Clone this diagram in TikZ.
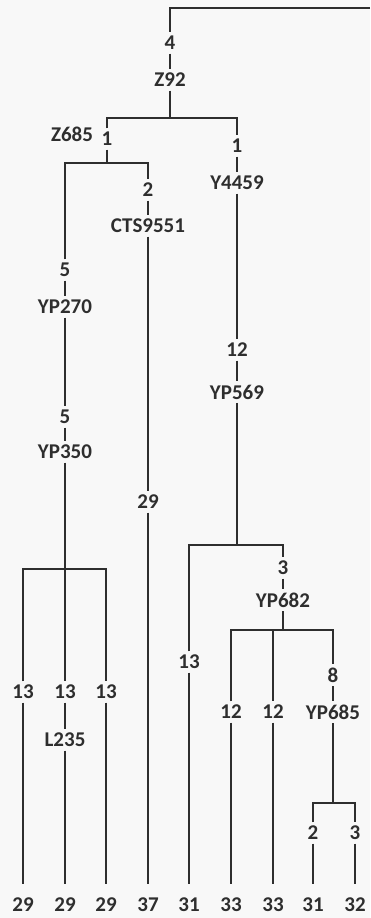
\documentclass[tikz,border=0pt]{standalone}
\usepackage{fontspec}
\setmainfont{Carlito}
\definecolor{ink}{HTML}{2E2E2E}
\definecolor{bg}{HTML}{F8F8F8}
\begin{document}
\begin{tikzpicture}[x=1pt,y=-1pt,
  lbl/.style={font=\fontsize{21}{21}\selectfont\bfseries, text=ink, inner sep=3.5pt},
  ln/.style={draw=ink, line width=2pt},
  leafln/.style={ln, shorten >=10pt}]
\fill[bg] (0,0) rectangle (370,918);
\useasboundingbox (0,0) rectangle (370,918);
% root
\coordinate (TR) at (370,8);
\coordinate (TL) at (170,8);
\node[lbl] (n4) at (170,43) {4};
\node[lbl] (z92) at (170,80) {Z92};
\coordinate (b1) at (170,118);
\node[lbl] (n1a) at (107,139) {1};
\node[lbl] (z685) at (72,134) {Z685};
\node[lbl] (n1b) at (237,146) {1};
\node[lbl] (y4459) at (237,183) {Y4459};
% left subtree
\coordinate (b2) at (107,163);
\node[lbl] (n5a) at (65,270) {5};
\node[lbl] (yp270) at (65,307) {YP270};
\node[lbl] (n5b) at (65,417) {5};
\node[lbl] (yp350) at (65,452) {YP350};
\coordinate (b6) at (65,569);
\node[lbl] (c13a) at (23,692) {13};
\node[lbl] (c13b) at (65,692) {13};
\node[lbl] (c13c) at (106,692) {13};
\node[lbl] (l235) at (65,740) {L235};
\node[lbl] (n2) at (148,190) {2};
\node[lbl] (cts) at (148,226) {CTS9551};
\node[lbl] (n29) at (148,502) {29};
% right subtree
\node[lbl] (n12) at (237,350) {12};
\node[lbl] (yp569) at (237,392) {YP569};
\coordinate (b3) at (237,545);
\node[lbl] (c13d) at (189,662) {13};
\node[lbl] (n3) at (283,568) {3};
\node[lbl] (yp682) at (283,600) {YP682};
\coordinate (b4) at (283,630);
\node[lbl] (c12a) at (231,712) {12};
\node[lbl] (c12b) at (273,712) {12};
\node[lbl] (n8) at (333,675) {8};
\node[lbl] (yp685) at (333,712) {YP685};
\coordinate (b5) at (333,803);
\node[lbl] (c2) at (313,833) {2};
\node[lbl] (c3) at (355,833) {3};
% leaves
\node[lbl] (t1) at (23,905) {29};
\node[lbl] (t2) at (65,905) {29};
\node[lbl] (t3) at (106,905) {29};
\node[lbl] (t4) at (148,905) {37};
\node[lbl] (t5) at (189,905) {31};
\node[lbl] (t6) at (231,905) {33};
\node[lbl] (t7) at (273,905) {33};
\node[lbl] (t8) at (313,905) {31};
\node[lbl] (t9) at (355,905) {32};
% connectors
\draw[ln] (TR) -- (TL) -- (n4);
\draw[ln] (n4) -- (z92);
\draw[ln] (z92) -- (b1);
\draw[ln] (n1a) |- (b1) -| (n1b);
\draw[ln] (n1b) -- (y4459);
\draw[ln] (n1a) -- (b2);
\draw[ln] (n5a) |- (b2) -| (n2);
\draw[ln] (n5a) -- (yp270);
\draw[ln] (yp270) -- (n5b);
\draw[ln] (n5b) -- (yp350);
\draw[ln] (yp350) -- (c13b);
\draw[ln] (c13a) |- (b6) -| (c13c);
\draw[ln] (c13b) -- (l235);
\draw[leafln] (c13a) -- (t1);
\draw[leafln] (l235) -- (t2);
\draw[leafln] (c13c) -- (t3);
\draw[ln] (n2) -- (cts);
\draw[ln] (cts) -- (n29);
\draw[leafln] (n29) -- (t4);
\draw[ln] (y4459) -- (n12);
\draw[ln] (n12) -- (yp569);
\draw[ln] (yp569) -- (b3);
\draw[ln] (c13d) |- (b3) -| (n3);
\draw[leafln] (c13d) -- (t5);
\draw[ln] (n3) -- (yp682);
\draw[ln] (yp682) -- (b4);
\draw[ln] (c12a) |- (b4) -| (n8);
\draw[ln] (c12b |- b4) -- (c12b);
\draw[leafln] (c12a) -- (t6);
\draw[leafln] (c12b) -- (t7);
\draw[ln] (n8) -- (yp685);
\draw[ln] (yp685) -- (b5);
\draw[ln] (c2) |- (b5) -| (c3);
\draw[leafln] (c2) -- (t8);
\draw[leafln] (c3) -- (t9);
\end{tikzpicture}
\end{document}
